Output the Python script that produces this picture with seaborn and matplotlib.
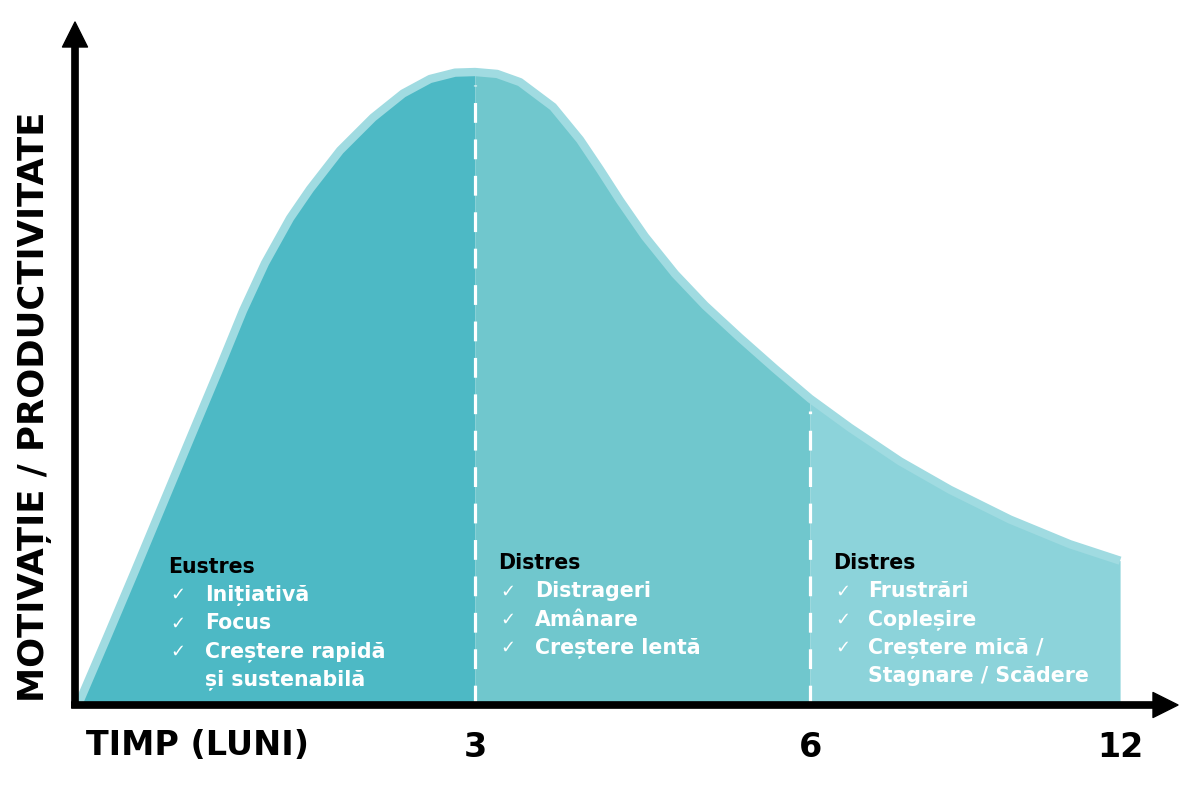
import numpy as np
import seaborn as sns
import matplotlib.pyplot as plt

# curve: months vs. motivation (0-100)
months = [0, 0.219, 0.431, 0.642, 0.861, 1.073, 1.247, 1.413, 1.602, 1.753,
          1.980, 2.229, 2.456, 2.660, 2.849, 3.0,
          3.197, 3.403, 3.698, 3.940, 4.119, 4.298, 4.522, 4.791, 5.060,
          5.373, 5.687, 6.0,
          6.774, 7.742, 8.710, 9.871, 11.03, 12.0]
motivation = [0, 10.7, 21.2, 31.8, 42.8, 53.4, 62.3, 69.8, 76.9, 81.5,
              87.6, 92.8, 96.6, 98.9, 99.9, 100.0,
              99.7, 98.4, 94.5, 89.3, 84.6, 79.7, 74.0, 68.1, 63.1,
              58.0, 53.1, 48.4,
              43.8, 38.5, 34.0, 29.3, 25.4, 22.8]

tick_months = [3, 6, 12]
tick_labels = ["3", "6", "12"]
x_title = "TIMP (LUNI)"
y_title = "MOTIVAȚIE / PRODUCTIVITATE"

phase_titles = ["Eustres", "Distres", "Distres"]
phase_items = [
    ["Inițiativă", "Focus", "Creștere rapidă", "și sustenabilă"],
    ["Distrageri", "Amânare", "Creștere lentă"],
    ["Frustrări", "Copleșire", "Creștere mică /", "Stagnare / Scădere"],
]
phase_checks = [[True, True, True, False], [True, True, True], [True, True, True, False]]
phase_bounds = [(0, 3), (3, 6), (6, 12)]
phase_colors = ["#4db9c5", "#70c7cd", "#8cd3da"]
band_color = "#a0dbe1"

sns.set_theme(style="white")
plt.rcParams["font.family"] = ["DejaVu Sans"]

# the time axis is not linear in the picture: piecewise scale
bp_m = [-1, 0, 3, 6, 12, 20]
bp_px = [-132.3, 0, 397, 732, 1042, 1455.6]


def fwd(m):
    return np.interp(m, bp_m, bp_px)


def inv(p):
    return np.interp(p, bp_px, bp_m)


fig = plt.figure(figsize=(12, 7.91), dpi=100)
ax = fig.add_axes([75 / 1200, 86 / 791, 1103 / 1200, 683 / 791])
ax.set_xscale("function", functions=(fwd, inv))
ax.set_xlim(-0.0227, 13.12)
ax.set_ylim(0, 107.9)

x = np.array(months)
y = np.array(motivation)
for (a, b), c in zip(phase_bounds, phase_colors):
    m = (x >= a) & (x <= b)
    ax.fill_between(x[m], 0, y[m], color=c, lw=0, zorder=1)

sns.lineplot(x=months, y=motivation, ax=ax, color=band_color, lw=6,
             solid_capstyle="butt", solid_joinstyle="round", zorder=2, sort=False)

for b in [3, 6]:
    top = y[x == b][0] - 2.0
    ax.plot([b, b], [0, top], color="white", lw=2.3, dashes=(6.2, 5.2), zorder=3)

# annotation blocks
title_x = [0.68, 3.21, 6.44]
check_x = [0.695, 3.23, 6.48]
item_x = [0.96, 3.54, 7.12]
title_y = [21.8, 22.4, 22.4]
step = 4.45
for i in range(3):
    ax.text(title_x[i], title_y[i], phase_titles[i], color="black", fontsize=14.8,
            fontweight="bold", va="center", ha="left", zorder=4)
    for j, item in enumerate(phase_items[i]):
        yy = title_y[i] - step * (j + 1)
        if phase_checks[i][j]:
            ax.text(check_x[i], yy, "✓", color="white", fontsize=13,
                    va="center", ha="left", zorder=4)
        ax.text(item_x[i], yy, item, color="white", fontsize=14.8,
                fontweight="bold", va="center", ha="left", zorder=4)

# axes with arrows
for s in ax.spines.values():
    s.set_visible(False)
ax.set_yticks([])
ax.set_xticks(tick_months)
ax.set_xticklabels(tick_labels, fontsize=24, fontweight="bold", color="black")
ax.tick_params(axis="x", length=0, pad=19)
arrow = dict(width=4.5, headwidth=18, headlength=18, facecolor="black",
             edgecolor="black", shrink=0)
ax.annotate("", xy=(1.0, 0), xytext=(-0.003, 0), xycoords="axes fraction",
            arrowprops=arrow, zorder=5, annotation_clip=False)
ax.annotate("", xy=(0, 1.0), xytext=(0, -0.003), xycoords="axes fraction",
            arrowprops=arrow, zorder=5, annotation_clip=False)

ax.text(0.9, -0.0586, x_title, transform=ax.get_xaxis_transform(), fontsize=24,
        fontweight="bold", ha="center", va="center", color="black")
ax.text(-40 / 1103, 0.436, y_title, transform=ax.transAxes, rotation=90,
        fontsize=25.5, fontweight="bold", ha="center", va="center", color="black")

fig.savefig("out.png", dpi=100)
